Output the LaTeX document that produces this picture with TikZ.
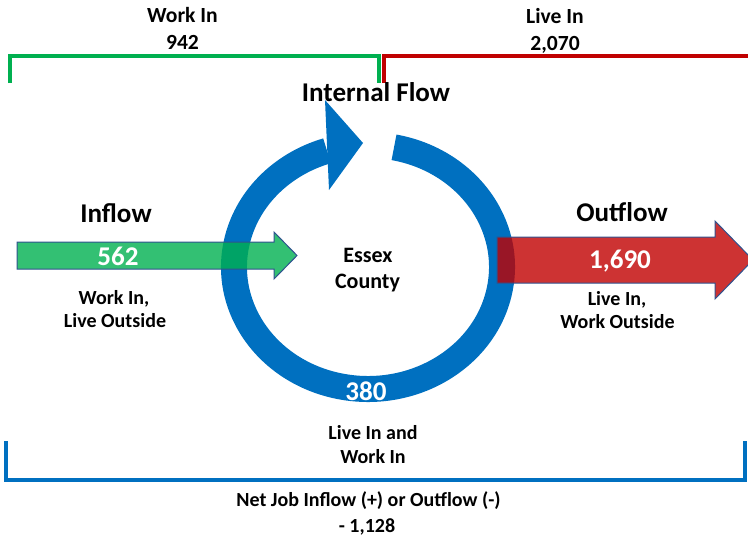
\documentclass[tikz,border=0pt]{standalone}
\usepackage{fontspec}
\setmainfont{Carlito}
\definecolor{ringblue}{HTML}{0070C0}
\definecolor{xgreen}{HTML}{00B050}
\definecolor{xred}{HTML}{C00000}
\definecolor{edgeblue}{HTML}{2F528F}
\begin{document}
\begin{tikzpicture}[x=0.75pt,y=-0.75pt,
  bracket/.style={line width=3pt},
  lbl/.style={font=\bfseries\fontsize{15}{18}\selectfont, anchor=base, inner sep=0pt},
  toplbl/.style={font=\bfseries\fontsize{16.2}{19}\selectfont, anchor=base, inner sep=0pt},
  head/.style={font=\bfseries\fontsize{20.3}{24}\selectfont, anchor=base, inner sep=0pt},
  num/.style={font=\bfseries\fontsize{20.3}{24}\selectfont, anchor=base, inner sep=0pt, text=white},
  mid/.style={font=\bfseries\fontsize{16.5}{20}\selectfont, anchor=base, inner sep=0pt},
  flowarrow/.style={draw=edgeblue, line width=0.75pt, fill opacity=0.8, line join=miter}]
\useasboundingbox (0,0) rectangle (748,539);
\clip (0,0) rectangle (748,539);

% brackets
\draw[bracket, xgreen] (10,83) -- (10,55.5) -- (379,55.5) -- (379,83);
\draw[bracket, xred] (384,83) -- (384,56) -- (760,56);
\draw[bracket, ringblue] (6,441) -- (6,480) -- (744.5,480) -- (744.5,441);

% circular arrow (internal flow)
\draw[ringblue, line width=19.5pt] (394.02,147.32) arc[start angle=-78.8, end angle=252.2, x radius=134, y radius=122];
\fill[ringblue] (325,100) -- (363,143) -- (329,190) -- cycle;

% inflow arrow
\filldraw[flowarrow, fill=xgreen] (17,242) -- (274,242) -- (274,232) -- (297,255.5) -- (274,279) -- (274,269) -- (17,269) -- cycle;
% outflow arrow
\filldraw[flowarrow, fill=xred] (497,237) -- (715,237) -- (715,221) -- (753,260) -- (715,299) -- (715,283) -- (497,283) -- cycle;

% top labels
\node[toplbl] (workin) at (182.5,22) {Work In};
\node[toplbl] (workinnum) at (182.5,49) {942};
\node[toplbl] (livein) at (555,23) {Live In};
\node[toplbl] (liveinnum) at (555,50) {2,070};

\node[head] (internal) at (376,101.5) {Internal Flow};
\node[head] (inflow) at (116,222) {Inflow};
\node[head] (outflow) at (622,221) {Outflow};

\node[num] (inflownum) at (118,265) {562};
\node[num] (outflownum) at (620,268) {1,690};
\node[num] (internalnum) at (366,400) {380};

\node[mid] (essex) at (368,262) {Essex};
\node[mid] (county) at (367.5,288) {County};

\node[lbl] (inA) at (114,304) {Work In,};
\node[lbl] (inB) at (115,327) {Live Outside};
\node[lbl] (outA) at (617,305) {Live In,};
\node[lbl] (outB) at (617.5,328) {Work Outside};

\node[lbl] (bothA) at (373,439) {Live In and};
\node[lbl] (bothB) at (373,463) {Work In};
\node[lbl] (net) at (368.5,506) {Net Job Inflow (+) or Outflow (-)};
\node[lbl] (netnum) at (367,532) {- 1,128};
\end{tikzpicture}
\end{document}
